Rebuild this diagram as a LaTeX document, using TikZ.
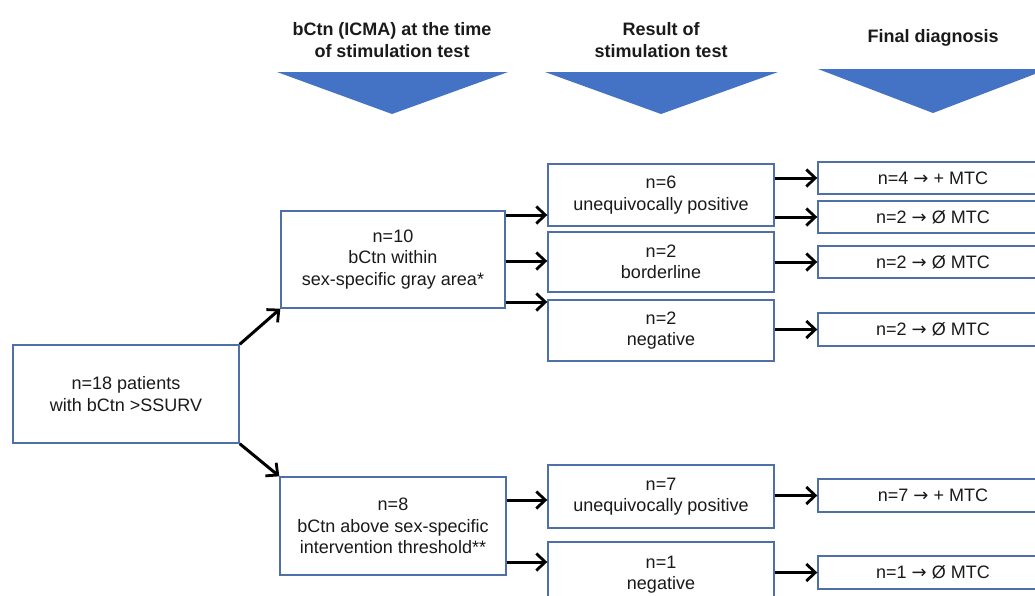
\documentclass[tikz,border=0pt]{standalone}
\usepackage{fontspec}
\setmainfont{Liberation Sans}
\newfontfamily\symfont{DejaVu Sans}
\usetikzlibrary{arrows.meta}
\definecolor{boxline}{HTML}{4F6FA8}
\definecolor{tri}{HTML}{4472C4}
\definecolor{txt}{HTML}{1A1A1A}
\newcommand{\rarr}{{\symfont\char"2192}}
\begin{document}
\begin{tikzpicture}[x=1pt,y=-1pt,
  box/.style={draw=boxline,line width=1.4pt,fill=white,inner sep=0pt,align=center,text=txt,font=\fontsize{18}{21.5}\selectfont},
  head/.style={align=center,text=txt,font=\fontsize{18}{21.5}\selectfont\bfseries},
  arr/.style={draw=black,line width=3pt,-{Straight Barb[length=9pt,width=17pt,line width=2.8pt]}},
  tribox/.style={fill=tri,draw=none}]
\useasboundingbox (0,0) rectangle (1035,595);
\clip (0,0) rectangle (1035,595);
% headers
\node[head] (h1) at (392,40) {bCtn (ICMA) at the time\\of stimulation test};
\node[head] (h2) at (661,40) {Result of\\stimulation test};
\node[head] (h3) at (933,38) {Final diagnosis};
\fill[tribox] (277,72) -- (508,72) -- (392,114) -- cycle;
\fill[tribox] (545,72) -- (778,72) -- (661,114) -- cycle;
\fill[tribox] (818,69) -- (1048,69) -- (933,113) -- cycle;
% boxes
\node[box,minimum width=226,minimum height=98] (root) at (126,394) {n=18 patients\\with bCtn >SSURV};
\node[box,minimum width=224,minimum height=97] (A) at (393,259.5) {n=10\\bCtn within\\sex-specific gray area*};
\node[box,minimum width=226,minimum height=98] (B) at (393,526) {n=8\\bCtn above sex-specific\\intervention threshold**};
\node[box,minimum width=226,minimum height=62] (M1) at (661,195) {n=6\\unequivocally positive};
\node[box,minimum width=226,minimum height=60] (M2) at (661,262) {n=2\\borderline};
\node[box,minimum width=226,minimum height=61] (M3) at (661,330.5) {n=2\\negative};
\node[box,minimum width=226,minimum height=63] (M4) at (661,496.5) {n=7\\unequivocally positive};
\node[box,minimum width=226,minimum height=62,text depth=0pt] (M5) at (661,573) {n=1\\negative};
\node[box,minimum width=230,minimum height=32] (R1) at (933,178) {n=4 \rarr{} + MTC};
\node[box,minimum width=230,minimum height=32] (R2) at (933,217) {n=2 \rarr{} Ø MTC};
\node[box,minimum width=230,minimum height=32] (R3) at (933,262) {n=2 \rarr{} Ø MTC};
\node[box,minimum width=230,minimum height=33] (R4) at (933,329.5) {n=2 \rarr{} Ø MTC};
\node[box,minimum width=230,minimum height=33] (R5) at (933,495.5) {n=7 \rarr{} + MTC};
\node[box,minimum width=230,minimum height=33] (R6) at (933,572.5) {n=1 \rarr{} Ø MTC};
% connectors
\draw[arr] (root.north east) -- (A.south west);
\draw[arr] (root.south east) -- (B.north west);
\draw[arr] (A.east |- 0,215) -- (M1.west |- 0,215);
\draw[arr] (A.east |- 0,261) -- (M2.west |- 0,261);
\draw[arr] (A.east |- 0,302) -- (M3.west |- 0,302);
\draw[arr] (B.east |- 0,500) -- (M4.west |- 0,500);
\draw[arr] (B.east |- 0,562) -- (M5.west |- 0,562);
\draw[arr] (M1.east |- R1) -- (R1.west);
\draw[arr] (M1.east |- R2) -- (R2.west);
\draw[arr] (M2.east |- R3) -- (R3.west);
\draw[arr] (M3.east |- R4) -- (R4.west);
\draw[arr] (M4.east |- R5) -- (R5.west);
\draw[arr] (M5.east |- R6) -- (R6.west);
\end{tikzpicture}
\end{document}
